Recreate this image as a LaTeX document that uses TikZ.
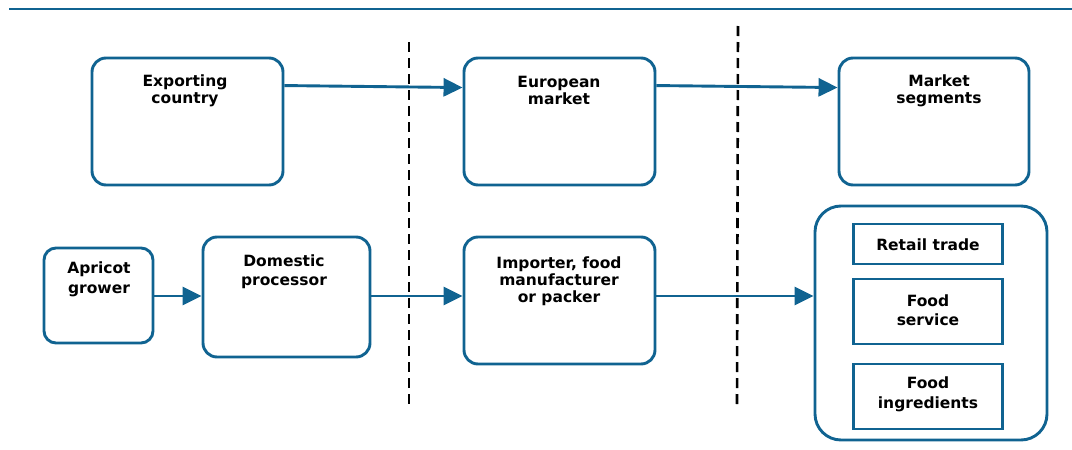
\documentclass[tikz,border=0pt]{standalone}
\usepackage{fontspec}
\setmainfont{DejaVu Sans}
\usetikzlibrary{arrows.meta,calc}
\definecolor{cblue}{RGB}{16,99,145}
\tikzset{
  rbox/.style={draw=cblue,line width=2.9pt,rounded corners=14pt,inner sep=0pt},
  sbox/.style={draw=cblue,line width=2.9pt,inner sep=0pt},
  lbl/.style={font=\bfseries\fontsize{15.5}{17}\selectfont,align=center,inner sep=0pt,text=black},
  flow/.style={draw=cblue,line width=2.9pt,-{Triangle[length=19pt,width=18pt]}},
  divider/.style={draw=black,line width=2.6pt,dash pattern=on 10pt off 6pt}
}
\begin{document}
\begin{tikzpicture}[x=1pt,y=-1pt]
\useasboundingbox (0,0) rectangle (1072,450);
% top rule
\coordinate (tl) at (9,9);
\coordinate (tr) at (1072,9);
\draw[cblue,line width=1.5pt] (tl) -- (tr);
% dividers
\coordinate (d1a) at (409,42); \coordinate (d1b) at (409,405);
\coordinate (d2a) at (738,26); \coordinate (d2b) at (737,405);
\draw[divider] (d1a) -- (d1b);
\draw[divider] (d2a) -- (d2b);
% top row boxes
\node[rbox,minimum width=191pt,minimum height=127pt] (exp) at (187.5,121.5) {};
\node[rbox,minimum width=191pt,minimum height=127pt] (eur) at (559.5,121.5) {};
\node[rbox,minimum width=190pt,minimum height=127pt] (seg) at (934,121.5) {};
\node[lbl] (expt) at (185,90.5) {Exporting\\country};
\node[lbl] (eurt) at (559,90.5) {European\\market};
\node[lbl] (segt) at (939,90.5) {Market\\segments};
% bottom row boxes
\node[rbox,rounded corners=12pt,minimum width=109pt,minimum height=95pt] (apr) at (98.5,295.5) {};
\node[rbox,minimum width=167pt,minimum height=120pt] (dom) at (286.5,297) {};
\node[rbox,minimum width=191pt,minimum height=127pt] (imp) at (559.5,300.5) {};
\node[rbox,rounded corners=26pt,minimum width=232pt,minimum height=234pt] (big) at (931,323) {};
\node[lbl,font=\bfseries\fontsize{15.5}{20}\selectfont] (aprt) at (99,279) {Apricot\\grower};
\node[lbl,font=\bfseries\fontsize{15.5}{19}\selectfont] (domt) at (284,271.5) {Domestic\\processor};
\node[lbl] (impt) at (559,281.5) {Importer, food\\manufacturer\\or packer};
% inner boxes
\node[sbox,minimum width=149pt,minimum height=40pt] (ret) at (928,244) {};
\node[sbox,minimum width=149pt,minimum height=65pt] (fs) at (928,311.5) {};
\node[sbox,minimum width=149pt,minimum height=65pt] (fi) at (928,396.5) {};
\node[lbl] (rett) at (928,245) {Retail trade};
\node[lbl,font=\bfseries\fontsize{15.5}{19}\selectfont] (fst) at (928,310) {Food\\service};
\node[lbl,font=\bfseries\fontsize{15.5}{20}\selectfont] (fit) at (928,394.5) {Food\\ingredients};
% connectors
\draw[flow] ([yshift=-29pt]exp.north east) -- ([yshift=-31pt]eur.north west);
\draw[flow] ([yshift=-29pt]eur.north east) -- ([yshift=-31pt]seg.north west);
\draw[flow] (apr.east |- 0,296) -- (dom.west |- 0,296);
\draw[flow] (dom.east |- 0,296) -- (imp.west |- 0,296);
\draw[flow] (imp.east |- 0,296) -- (big.west |- 0,296);
\end{tikzpicture}
\end{document}
